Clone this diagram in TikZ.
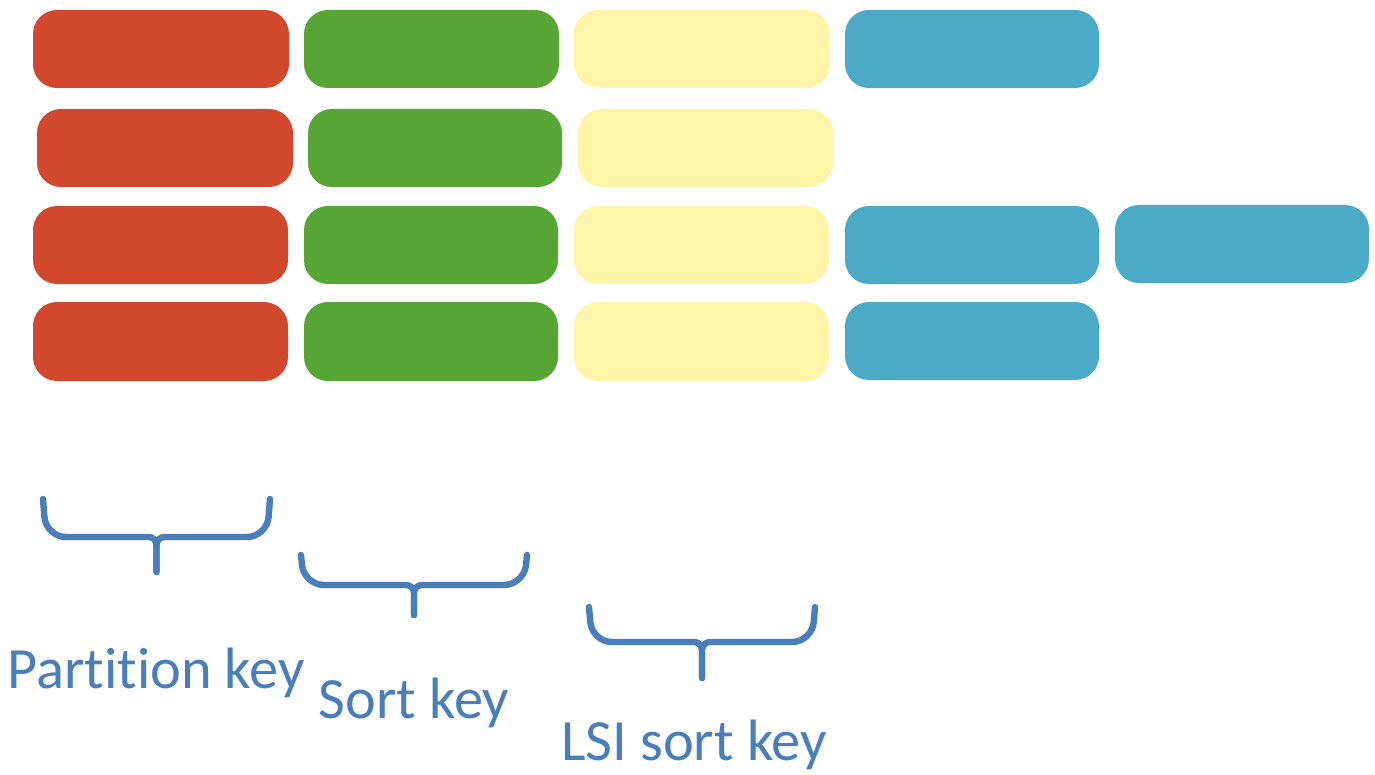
\documentclass[tikz,border=0pt]{standalone}
\usepackage{fontspec}
\setmainfont{Carlito}[Ligatures=NoCommon]
\definecolor{keyred}{HTML}{D2482D}
\definecolor{keygreen}{HTML}{57A535}
\definecolor{keyyellow}{HTML}{FEF5A8}
\definecolor{keyblue}{HTML}{4BAAC5}
\definecolor{labelblue}{HTML}{4A7EBB}
\tikzset{
  cell/.style={rounded corners=12},
  bracepath/.style={line width=3.2pt, color=labelblue, line cap=round, line join=round},
  keylabel/.style={anchor=base, text=labelblue, inner sep=0pt, font=\fontsize{29.2}{35}\selectfont}
}
% brace: left x, right x, top y, bar y, tip y
\def\keybrace(#1:#2:#3:#4:#5){
  \draw[bracepath] (#1,#3) [rounded corners=10] -- (#1+3,#4) [rounded corners=4] -- ({(#1+#2)/2},#4) -- ({(#1+#2)/2},#5);
  \draw[bracepath] (#2,#3) [rounded corners=10] -- (#2-3,#4) [rounded corners=4] -- ({(#1+#2)/2},#4) -- ({(#1+#2)/2},#5);
}

\begin{document}
\begin{tikzpicture}[x=0.5pt, y=-0.5pt]
		%%%%% START %%%%%
		\useasboundingbox (0, 0) rectangle (1375, 775);
		
		% row 1
		\fill[cell, keyred] (33, 10) rectangle (289, 88);
		\fill[cell, keygreen] (304, 10) rectangle (559, 88);
		\fill[cell, keyyellow] (574, 10) rectangle (830, 88);
		\fill[cell, keyblue] (845, 10) rectangle (1099, 88);
		
		% row 2
		\fill[cell, keyred] (37, 109) rectangle (293, 187);
		\fill[cell, keygreen] (308, 109) rectangle (562, 187);
		\fill[cell, keyyellow] (578, 109) rectangle (833, 187);
		
		% row 3
		\fill[cell, keyred] (33, 206) rectangle (288, 284);
		\fill[cell, keygreen] (304, 206) rectangle (558, 284);
		\fill[cell, keyyellow] (574, 206) rectangle (829, 284);
		\fill[cell, keyblue] (845, 206) rectangle (1099, 284);
		\fill[cell, keyblue] (1115, 205) rectangle (1369, 283);
		
		% row 4
		\fill[cell, keyred] (33, 302) rectangle (288, 381);
		\fill[cell, keygreen] (304, 302) rectangle (558, 381);
		\fill[cell, keyyellow] (574, 302) rectangle (829, 381);
		\fill[cell, keyblue] (845, 302) rectangle (1099, 380);
		
		% braces
		\keybrace(43:270:499:537:572)
		\keybrace(301:527:555:585:615)
		\keybrace(589:815:607:642:678)
		
		% labels
		\node[keylabel] (partition) at (156, 688) {Partition key};
		\node[keylabel] (sort) at (414, 718) {Sort key};
		\node[keylabel] (lsi) at (694, 760) {LSI sort key};
		
		%%%%% END %%%%%
	\end{tikzpicture}
\end{document}
